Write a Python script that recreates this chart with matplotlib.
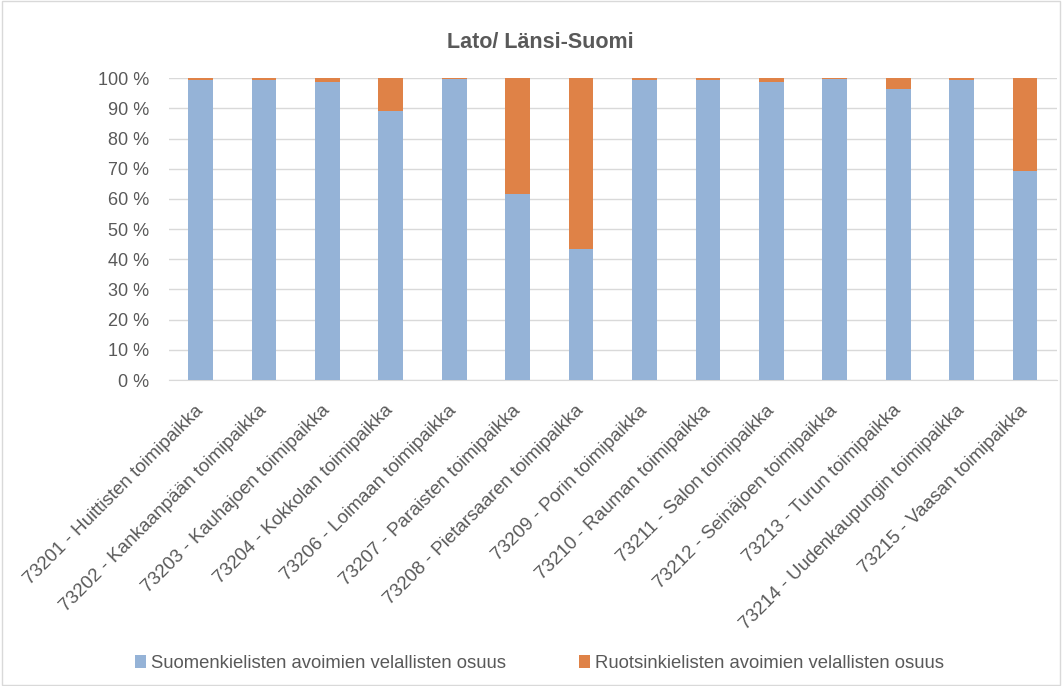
import matplotlib.pyplot as plt
from matplotlib.ticker import MultipleLocator, FuncFormatter

plt.rcParams['font.family'] = ['Liberation Sans', 'DejaVu Sans']

# toimipaikat ja osuudet (%)
toimipaikat = [
    "73201 - Huittisten toimipaikka",
    "73202 - Kankaanpään toimipaikka",
    "73203 - Kauhajoen toimipaikka",
    "73204 - Kokkolan toimipaikka",
    "73206 - Loimaan toimipaikka",
    "73207 - Paraisten toimipaikka",
    "73208 - Pietarsaaren toimipaikka",
    "73209 - Porin toimipaikka",
    "73210 - Rauman toimipaikka",
    "73211 - Salon toimipaikka",
    "73212 - Seinäjoen toimipaikka",
    "73213 - Turun toimipaikka",
    "73214 - Uudenkaupungin toimipaikka",
    "73215 - Vaasan toimipaikka",
]
suomi = [99.5, 99.5, 98.9, 89.1, 99.8, 61.5, 43.4, 99.5, 99.5, 98.8, 99.6, 96.5, 99.3, 69.2]
ruotsi = [0.5, 0.5, 1.1, 10.9, 0.2, 38.5, 56.6, 0.5, 0.5, 1.2, 0.4, 3.5, 0.7, 30.8]

sarjat = ["Suomenkielisten avoimien velallisten osuus",
          "Ruotsinkielisten avoimien velallisten osuus"]
varit = ["#95B3D7", "#DF8247"]
tekstivari = "#595959"

fig = plt.figure(figsize=(10.62, 6.86), dpi=100)
ax = fig.add_axes([0.159, 0.446, 0.836, 0.44])

x = range(len(toimipaikat))
ax.bar(x, suomi, width=0.39, color=varit[0], label=sarjat[0], zorder=3)
ax.bar(x, ruotsi, width=0.39, bottom=suomi, color=varit[1], label=sarjat[1], zorder=3)

ax.set_xlim(-0.5, len(toimipaikat) - 0.5)
ax.set_ylim(0, 100)
ax.yaxis.set_major_locator(MultipleLocator(10))
ax.yaxis.set_major_formatter(FuncFormatter(lambda v, p: f"{v:.0f} %"))
ax.grid(axis='y', color='#D9D9D9', linewidth=1, zorder=0)

for s in ['top', 'right', 'left']:
    ax.spines[s].set_visible(False)
ax.spines['bottom'].set_color('#D9D9D9')
ax.tick_params(length=0, colors=tekstivari, labelsize=13)
ax.tick_params(axis='y', pad=14)

ax.set_xticks(list(x))
ax.set_xticklabels(toimipaikat, rotation=45, ha='right', va='center',
                   rotation_mode='anchor', fontsize=13.5, color=tekstivari)
ax.tick_params(axis='x', pad=20)

fig.text(0.5085, 0.938, "Lato/ Länsi-Suomi", ha='center', va='center',
         fontsize=15.5, fontweight='bold', color=tekstivari)

fig.legend(loc='center', bbox_to_anchor=(0.508, 0.033), ncol=2, frameon=False,
           fontsize=13.3, labelcolor=tekstivari, handlelength=0.6, handleheight=0.7,
           handletextpad=0.3, columnspacing=3.9)

# kehys kuvan ympärille
fig.patches.append(plt.Rectangle((0.002, 0.002), 0.996, 0.996, transform=fig.transFigure,
                                 fill=False, edgecolor='#D9D9D9', linewidth=1))

fig.savefig("out.png", dpi=100)
